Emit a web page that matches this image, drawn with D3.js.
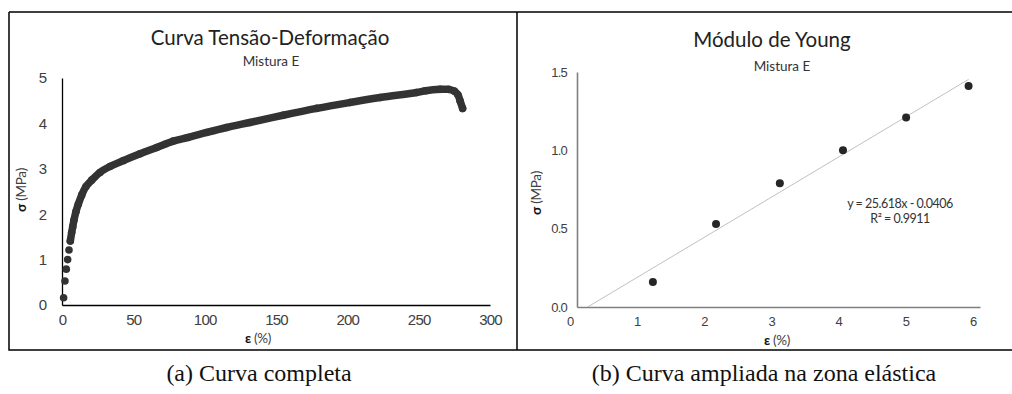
<!DOCTYPE html>
<html>
<head>
<meta charset="utf-8">
<script src="https://cdn.jsdelivr.net/npm/d3@7"></script>
<style>
  body { margin: 0; background: #fff; }
  svg { display: block; font-family: Lato, "Open Sans", sans-serif; }
  .tick text { fill: #404040; }
  .caption { font-family: "Liberation Serif", "DejaVu Serif", serif; fill: #111; }
</style>
</head>
<body>
<script>
//=================== DATA ===================
// (a) full stress-strain curve
const curveStrain = [1.13, 2.07, 3.02, 3.96, 4.90, 5.83, 6.8, 7.5, 8.4, 9.8, 11.4, 13.8, 16.8, 20.8, 26.6,
  33.6, 43, 54.7, 66.4, 78, 88.5, 101.4, 115.4, 131.7, 155, 178.5, 201.8, 223, 248.5, 255, 265, 271, 275, 277.5, 279, 280.8]
const curveStress = [0.16, 0.53, 0.79, 1.00, 1.21, 1.41, 1.60, 1.72, 1.87, 2.06, 2.22, 2.42, 2.61, 2.75, 2.92,
  3.05, 3.18, 3.33, 3.47, 3.61, 3.69, 3.80, 3.91, 4.02, 4.18, 4.33, 4.46, 4.57, 4.68, 4.72, 4.75, 4.75, 4.71, 4.63, 4.50, 4.33]
// first points are loose dots, the rest overlap into a band
const bandStart = 5

// (b) elastic zone
const elasticStrain = [1.13, 2.07, 3.02, 3.96, 4.90, 5.83]
const elasticStress = [0.16, 0.53, 0.79, 1.00, 1.21, 1.41]
const trendSlope = 25.618   // per unit strain
const trendIntercept = -0.0406
const trendLabel = ['y = 25.618x - 0.0406', 'R² = 0.9911']

const ticksA_x = [0, 50, 100, 150, 200, 250, 300]
const ticksA_y = [0, 1, 2, 3, 4, 5]
const ticksB_x = [0, 1, 2, 3, 4, 5, 6]
const ticksB_y = [0, 0.5, 1.0, 1.5]

const titleA = 'Curva Tensão-Deformação'
const titleB = 'Módulo de Young'
const subtitle = 'Mistura E'
const captionA = '(a) Curva completa'
const captionB = '(b) Curva ampliada na zona elástica'

const dotColor = '#333333'

//=================== SVG ===================
const svg = d3.select('body').append('svg')
  .attr('width', 1012)
  .attr('height', 394)

// frame around the two figures
svg.append('path')
  .attr('d', 'M9,12 H1012 M9,12 V350 H1012 M517,12 V350')
  .attr('fill', 'none')
  .attr('stroke', '#000')
  .attr('stroke-width', 1.5)

// helper for the axis labels with a bold greek letter
const axisLabel = (g, x, y, greek, unit, rotate, size) => {
  const t = g.append('text')
    .attr('text-anchor', 'middle')
    .attr('font-size', size)
    .attr('fill', '#404040')
    .attr('letter-spacing', -0.3)
    .attr('transform', `translate(${x},${y})` + (rotate ? ' rotate(-90)' : ''))
  t.append('tspan').text(greek).attr('font-weight', 'bold').attr('fill', '#111')
  t.append('tspan').text(' ' + unit)
}

//=================== (a) FULL CURVE ===================
const xA = d3.scaleLinear().domain([0, 300]).range([62, 490])
const yA = d3.scaleLinear().domain([0, 5]).range([305, 78])

const gA = svg.append('g')

gA.append('g')
  .attr('transform', `translate(0,${yA(0)})`)
  .call(d3.axisBottom(xA).tickValues(ticksA_x).tickSize(0).tickPadding(9).tickFormat(d3.format('d')))
  .call(g => g.select('.domain').attr('stroke', '#000').attr('stroke-width', 1.3))
  .selectAll('text').attr('font-size', 15).attr('letter-spacing', -0.8)

gA.append('g')
  .attr('transform', `translate(${xA(0)},0)`)
  .call(d3.axisLeft(yA).tickValues(ticksA_y).tickSize(0).tickPadding(15).tickFormat(d3.format('d')))
  .call(g => g.select('.domain').attr('stroke', '#000').attr('stroke-width', 1.3))
  .selectAll('text').attr('font-size', 15)

const curve = curveStrain.map((d, i) => ({ x: d, y: curveStress[i] }))

// dense part of the curve shows up as a thick band of overlapping markers
gA.append('path')
  .datum(curve.slice(bandStart))
  .attr('d', d3.line().x(d => xA(d.x)).y(d => yA(d.y)).curve(d3.curveCatmullRom))
  .attr('fill', 'none')
  .attr('stroke', dotColor)
  .attr('stroke-width', 7.5)
  .attr('stroke-linecap', 'round')
  .attr('stroke-linejoin', 'round')

gA.selectAll('circle')
  .data(curve)
  .enter()
  .append('circle')
  .attr('cx', d => xA(d.x))
  .attr('cy', d => yA(d.y))
  .attr('r', 3.8)
  .attr('fill', dotColor)

gA.append('text')
  .text(titleA)
  .attr('x', 270).attr('y', 45)
  .attr('text-anchor', 'middle')
  .attr('font-size', 20.5)
  .attr('fill', '#222')

gA.append('text')
  .text(subtitle)
  .attr('x', 271).attr('y', 66)
  .attr('text-anchor', 'middle')
  .attr('font-size', 13.5)
  .attr('fill', '#333')

axisLabel(gA, 26, 190, 'σ', '(MPa)', true, 13.5)
axisLabel(gA, 258, 343, 'ε', '(%)', false, 13.5)

//=================== (b) ELASTIC ZONE ===================
const xB = d3.scaleLinear().domain([0, 6]).range([577, 980])
const yB = d3.scaleLinear().domain([0, 1.5]).range([307, 72])

const gB = svg.append('g')

gB.append('g')
  .attr('transform', `translate(0,${yB(0)})`)
  .call(d3.axisBottom(xB).tickValues(ticksB_x).tickSize(0).tickPadding(10).tickFormat(d3.format('d')))
  .call(g => g.select('.domain').attr('stroke', '#7f7f7f').attr('stroke-width', 1.6))
  .selectAll('text').attr('font-size', 13).attr('dx', -7)

gB.append('g')
  .attr('transform', `translate(${xB(0)},0)`)
  .call(d3.axisLeft(yB).tickValues(ticksB_y).tickSize(0).tickPadding(10).tickFormat(d3.format('.1f')))
  .call(g => g.select('.domain').attr('stroke', '#7f7f7f').attr('stroke-width', 1.6))
  .selectAll('text').attr('font-size', 13).attr('letter-spacing', -0.8)

// linear trendline from the fitted equation, from where it meets the x axis to the last point
const trendY = e => trendSlope * e / 100 + trendIntercept
const trendX0 = -trendIntercept / trendSlope * 100
const trendX1 = d3.max(elasticStrain)
gB.append('line')
  .attr('x1', xB(trendX0)).attr('y1', yB(trendY(trendX0)))
  .attr('x2', xB(trendX1)).attr('y2', yB(trendY(trendX1)))
  .attr('stroke', '#b0b0b0')
  .attr('stroke-width', 0.8)

gB.selectAll('circle')
  .data(elasticStrain)
  .enter()
  .append('circle')
  .attr('cx', d => xB(d))
  .attr('cy', (d, i) => yB(elasticStress[i]))
  .attr('r', 4)
  .attr('fill', '#262626')

gB.append('text')
  .text(titleB)
  .attr('x', 772).attr('y', 47)
  .attr('text-anchor', 'middle')
  .attr('font-size', 20.5)
  .attr('fill', '#222')

gB.append('text')
  .text(subtitle)
  .attr('x', 782).attr('y', 71)
  .attr('text-anchor', 'middle')
  .attr('font-size', 13.5)
  .attr('fill', '#333')

gB.selectAll('.eq')
  .data(trendLabel)
  .enter()
  .append('text')
  .attr('class', 'eq')
  .text(d => d)
  .attr('x', 900)
  .attr('y', (d, i) => 208 + i * 15)
  .attr('text-anchor', 'middle')
  .attr('font-size', 12.5)
  .attr('letter-spacing', -0.5)
  .attr('fill', '#333')

axisLabel(gB, 541, 193, 'σ', '(MPa)', true, 13.5)
axisLabel(gB, 777, 345, 'ε', '(%)', false, 13.5)

//=================== CAPTIONS ===================
svg.append('text')
  .attr('class', 'caption')
  .text(captionA)
  .attr('x', 259).attr('y', 381)
  .attr('text-anchor', 'middle')
  .attr('font-size', 24)

svg.append('text')
  .attr('class', 'caption')
  .text(captionB)
  .attr('x', 764).attr('y', 381)
  .attr('text-anchor', 'middle')
  .attr('font-size', 24)
</script>
</body>
</html>
